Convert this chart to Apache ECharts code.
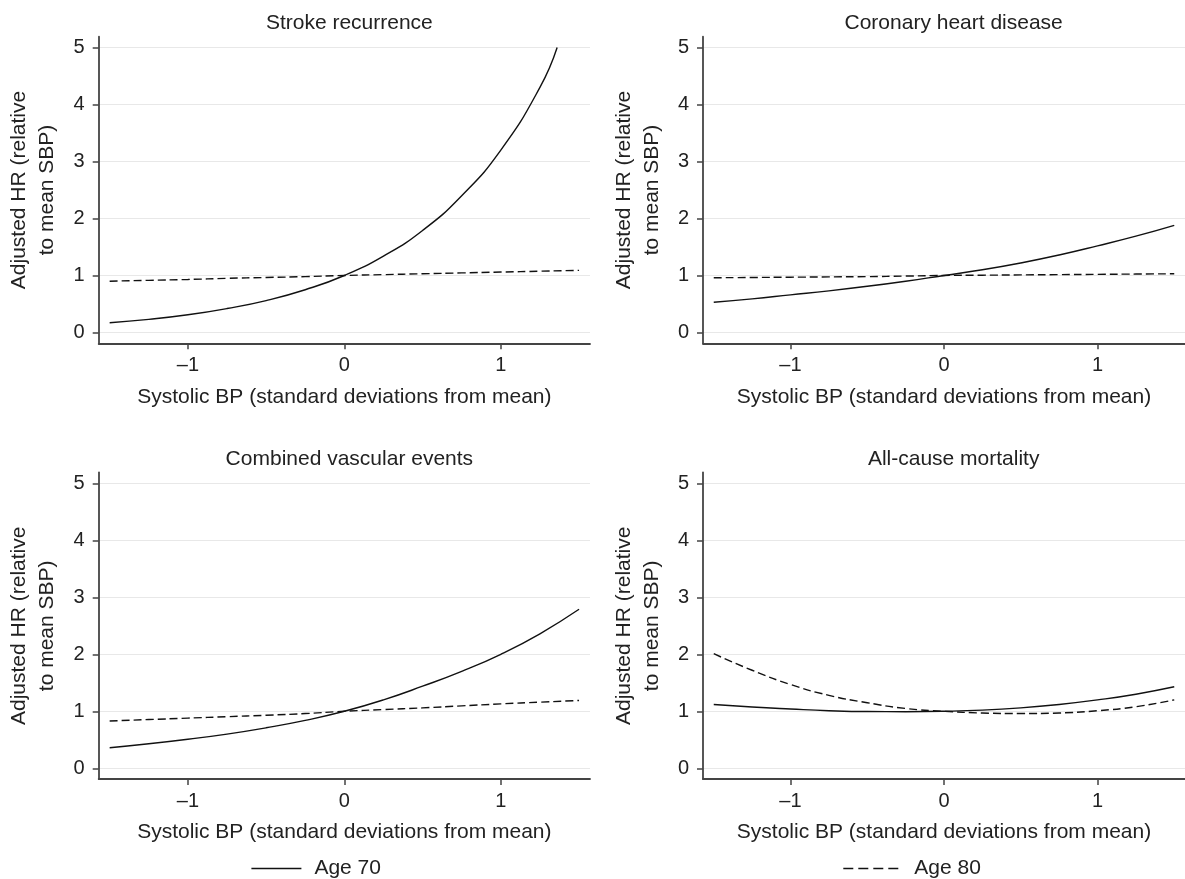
<!DOCTYPE html>
<html>
<head>
<meta charset="utf-8">
<script src="https://cdn.jsdelivr.net/npm/echarts@6/dist/echarts.min.js"></script>
<style>
  html, body { margin: 0; padding: 0; background: #fff; }
  #main { width: 1185px; height: 879px; }
</style>
</head>
<body>
<div id="main"></div>
<script>
  var xs = [-1.5, -1.25, -1, -0.75, -0.5, -0.25, 0, 0.25, 0.5, 0.75, 1, 1.25, 1.5];
  // stroke curve for age 70 leaves the plot at HR 5
  var strokeXs70 = [-1.5, -1.25, -1, -0.75, -0.5, -0.25, 0, 0.25, 0.5, 0.75, 1, 1.25, 1.36];

  var panelTitles = ['Stroke recurrence', 'Coronary heart disease', 'Combined vascular events', 'All-cause mortality'];

  var stroke70 = [0.17, 0.23, 0.31, 0.42, 0.56, 0.75, 1.0, 1.34, 1.79, 2.4, 3.2, 4.3, 5.0];
  var stroke80 = [0.90, 0.915, 0.93, 0.95, 0.965, 0.98, 1.0, 1.015, 1.03, 1.045, 1.06, 1.075, 1.09];
  var coronary70 = [0.53, 0.59, 0.66, 0.73, 0.81, 0.9, 1.0, 1.1, 1.22, 1.36, 1.52, 1.69, 1.88];
  var coronary80 = [0.96, 0.965, 0.97, 0.975, 0.98, 0.99, 1.0, 1.005, 1.01, 1.015, 1.02, 1.025, 1.03];
  var vascular70 = [0.36, 0.43, 0.51, 0.6, 0.71, 0.84, 1.0, 1.2, 1.44, 1.7, 2.0, 2.36, 2.79];
  var vascular80 = [0.83, 0.855, 0.88, 0.905, 0.93, 0.96, 1.0, 1.03, 1.06, 1.095, 1.13, 1.16, 1.19];
  var mortality70 = [1.12, 1.075, 1.04, 1.01, 0.995, 0.993, 1.0, 1.02, 1.06, 1.12, 1.2, 1.3, 1.43];
  var mortality80 = [2.01, 1.72, 1.47, 1.28, 1.15, 1.05, 1.0, 0.97, 0.96, 0.97, 1.01, 1.08, 1.2];

  var yTicks = [0, 1, 2, 3, 4, 5];
  var xTicks = [-1, 0, 1];

  var age70 = [stroke70, coronary70, vascular70, mortality70];
  var age80 = [stroke80, coronary80, vascular80, mortality80];
  var xs70 = [strokeXs70, xs, xs, xs];

  var font = 'Liberation Sans, Arial, Helvetica, sans-serif';
  var ink = '#222';

  function pairs(x, y) {
    return y.map(function (v, i) { return [x[i], v]; });
  }

  var boxes = [
    { left: 98.7, top: 36.7 },
    { left: 703, top: 36.7 },
    { left: 98.7, top: 472.5 },
    { left: 703, top: 472.5 }
  ];
  var plotW = 491.3, plotH = 306.6;

  var grid = [], xAxis = [], yAxis = [], series = [], title = [];

  boxes.forEach(function (b, i) {
    grid.push({ left: b.left, top: b.top, width: plotW, height: plotH });
    title.push({
      text: panelTitles[i],
      left: b.left + plotW / 2,
      top: b.top - 29,
      textAlign: 'center',
      textStyle: { fontFamily: font, fontSize: 21, fontWeight: 'normal', color: ink }
    });
    xAxis.push({
      type: 'value', gridIndex: i, min: -1.57, max: 1.57,
      name: 'Systolic BP (standard deviations from mean)',
      nameLocation: 'middle', nameGap: 43,
      nameTextStyle: { fontFamily: font, fontSize: 21, color: ink },
      axisLine: { onZero: false, lineStyle: { color: '#444', width: 1.8 } },
      axisTick: { customValues: xTicks, length: 6, lineStyle: { color: '#444', width: 1.5 } },
      axisLabel: {
        customValues: xTicks, margin: 12, fontFamily: font, fontSize: 20, color: ink,
        formatter: function (v) { return v < 0 ? '\u2013' + Math.abs(v) : String(v); }
      },
      splitLine: { show: false }
    });
    yAxis.push({
      type: 'value', gridIndex: i, min: -0.19, max: 5.19,
      name: 'Adjusted HR (relative\nto mean SBP)',
      nameLocation: 'middle', nameGap: 37,
      nameTextStyle: { fontFamily: font, fontSize: 21, lineHeight: 28, color: ink, align: 'center' },
      axisLine: { show: true, onZero: false, lineStyle: { color: '#444', width: 1.8 } },
      axisTick: { show: true, customValues: yTicks, length: 6, lineStyle: { color: '#444', width: 1.5 } },
      axisLabel: { customValues: yTicks, margin: 14, fontFamily: font, fontSize: 20, color: ink },
      splitLine: { show: true, lineStyle: { color: '#e8e8e8', width: 1.2 } }
    });
    series.push({
      name: 'Age 70', type: 'line', xAxisIndex: i, yAxisIndex: i,
      data: pairs(xs70[i], age70[i]),
      smooth: true, symbol: 'none',
      lineStyle: { color: '#111', width: 1.4, type: 'solid' },
      itemStyle: { color: '#111' }
    });
    series.push({
      name: 'Age 80', type: 'line', xAxisIndex: i, yAxisIndex: i,
      data: pairs(xs, age80[i]),
      smooth: true, symbol: 'none',
      lineStyle: { color: '#111', width: 1.4, type: [8, 4] },
      itemStyle: { color: '#111' }
    });
  });

  var chart = echarts.init(document.getElementById('main'), null, { renderer: 'canvas' });
  chart.setOption({
    backgroundColor: '#fff',
    animation: false,
    title: title,
    grid: grid,
    xAxis: xAxis,
    yAxis: yAxis,
    legend: [
      { data: ['Age 70'], left: 250.7, top: 858, padding: 0, itemWidth: 50, itemHeight: 20,
        selectedMode: false, itemStyle: { opacity: 0, borderWidth: 0 },
        lineStyle: { color: '#111', width: 1.4, type: 'solid' },
        textStyle: { fontFamily: font, fontSize: 21, color: ink, padding: [0, 0, 0, 8] } },
      { data: ['Age 80'], left: 842.6, top: 858, padding: 0, itemWidth: 55, itemHeight: 20,
        selectedMode: false, itemStyle: { opacity: 0, borderWidth: 0 },
        lineStyle: { color: '#111', width: 1.4, type: [10, 5] },
        textStyle: { fontFamily: font, fontSize: 21, color: ink, padding: [0, 0, 0, 11] } }
    ],
    series: series
  });
</script>
</body>
</html>
